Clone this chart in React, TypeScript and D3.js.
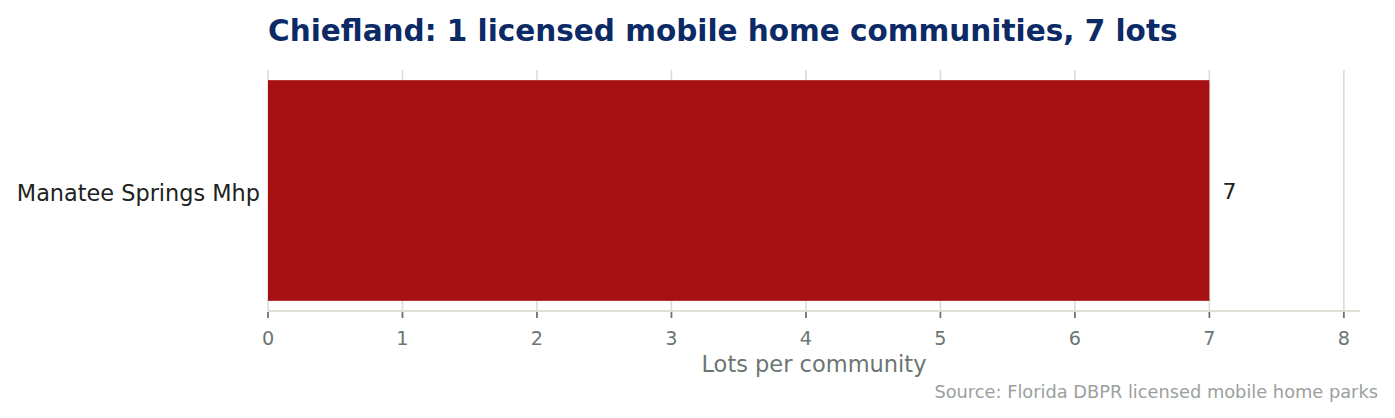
import React from "react";
import * as d3 from "d3";

const categories = ["Manatee Springs Mhp"];
const lots = [7];
const xTicks = [0, 1, 2, 3, 4, 5, 6, 7, 8];
const titleText = "Chiefland: 1 licensed mobile home communities, 7 lots";
const xLabel = "Lots per community";
const sourceText = "Source: Florida DBPR licensed mobile home parks";

export default function App() {
	const width = 1395;
	const height = 418;
	const marginTop = 70;
	const marginRight = 35;
	const marginBottom = 107;
	const marginLeft = 268;
	const font = "'DejaVu Sans', sans-serif";

	const x = d3
		.scaleLinear()
		.domain([0, 8.12])
		.range([marginLeft, width - marginRight]);

	const y = d3
		.scaleBand<string>()
		.domain(categories)
		.range([marginTop, height - marginBottom])
		.paddingInner(0)
		.paddingOuter(0.046);

	const axisY = height - marginBottom;

	return (
		<svg
			width={width}
			height={height}
			style={{ position: "absolute", left: 0, top: 0, background: "#fff" }}
			fontFamily={font}
		>
			{/* gridlines */}
			<g stroke="#dedbd3" strokeWidth={1.6}>
				{xTicks.map((t) => (
					<line key={t} x1={x(t)} x2={x(t)} y1={marginTop} y2={axisY} />
				))}
			</g>

			{/* bars */}
			{categories.map((c, i) => (
				<rect
					key={c}
					x={x(0)}
					y={y(c)}
					width={x(lots[i]) - x(0)}
					height={y.bandwidth()}
					fill="#a81114"
				/>
			))}

			{/* value labels */}
			{categories.map((c, i) => (
				<text
					key={c}
					x={x(lots[i]) + 13}
					y={(y(c) || 0) + y.bandwidth() / 2 + 8}
					fontSize={22}
					fill="#1d2321"
				>
					{lots[i]}
				</text>
			))}

			{/* category labels */}
			{categories.map((c) => (
				<text
					key={c}
					x={marginLeft - 8}
					y={(y(c) || 0) + y.bandwidth() / 2 + 10}
					textAnchor="end"
					fontSize={22.4}
					fill="#1d2321"
				>
					{c}
				</text>
			))}

			{/* x axis */}
			<line
				x1={marginLeft}
				x2={width - marginRight}
				y1={axisY}
				y2={axisY}
				stroke="#d8d5cb"
				strokeWidth={1.6}
			/>
			<g>
				{xTicks.map((t) => (
					<g key={t} transform={`translate(${x(t)}, ${axisY})`}>
						<line y1={1} y2={7} stroke="#6b7673" strokeWidth={1.8} />
						<text
							y={34}
							textAnchor="middle"
							fontSize={19.2}
							fill="#6b7673"
						>
							{t}
						</text>
					</g>
				))}
			</g>
			<text
				x={(marginLeft + width - marginRight) / 2}
				y={372}
				textAnchor="middle"
				fontSize={22.5}
				fill="#6b7673"
			>
				{xLabel}
			</text>

			{/* title */}
			<text x={marginLeft} y={41} fontSize={29.5} fontWeight="bold" fill="#0b2a66">
				{titleText}
			</text>

			{/* source */}
			<text x={1378} y={398} textAnchor="end" fontSize={17.8} fill="#9aa09e">
				{sourceText}
			</text>
		</svg>
	);
}
